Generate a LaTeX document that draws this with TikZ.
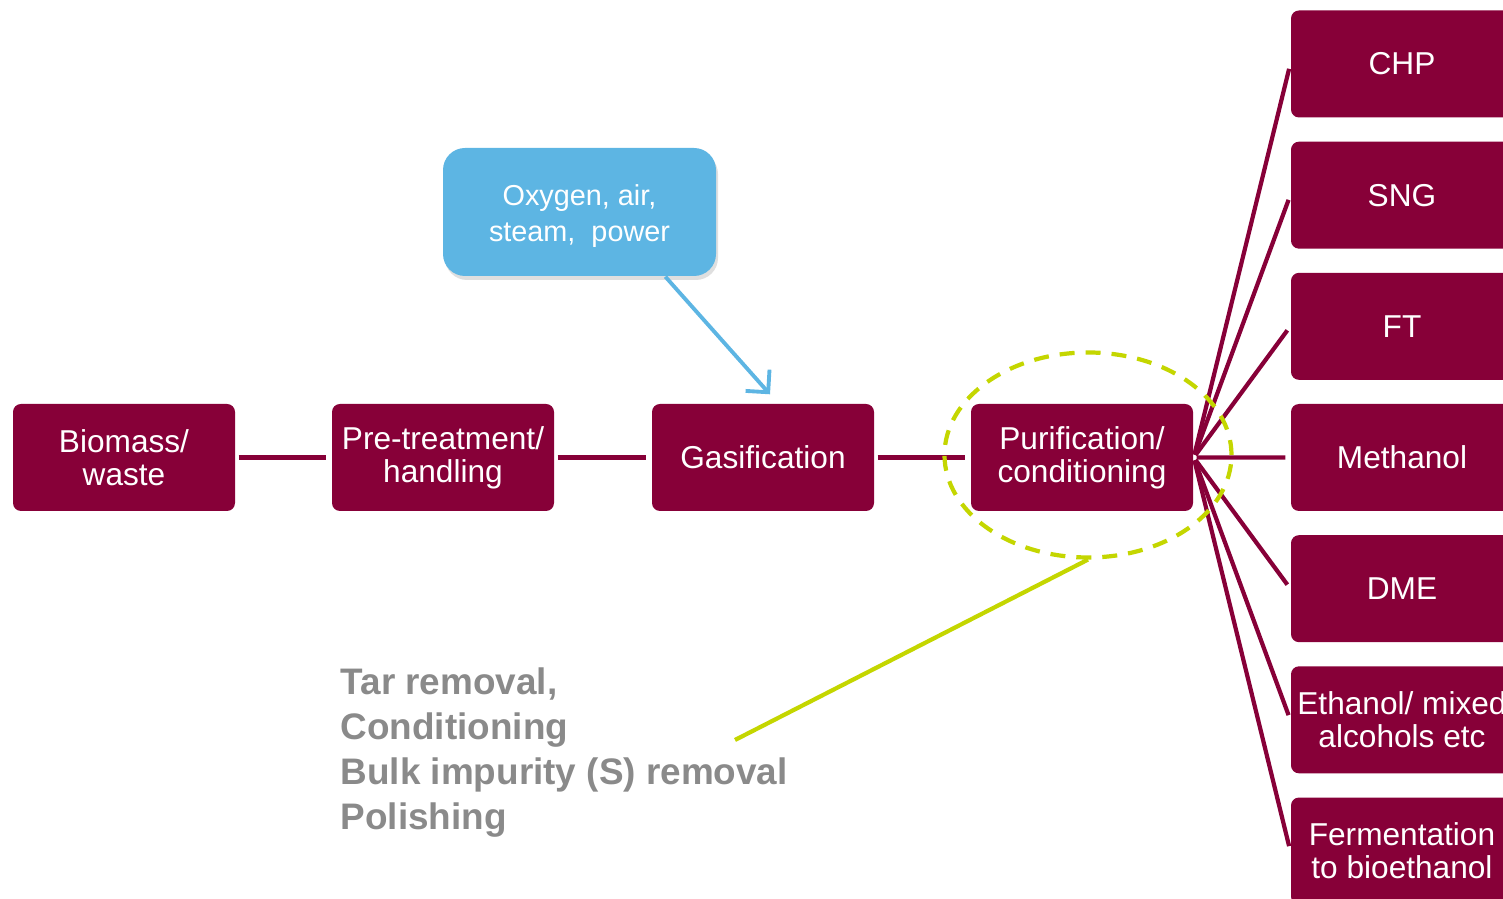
\documentclass[tikz,border=0pt]{standalone}
\usepackage{fontspec}
\setmainfont{Liberation Sans}
\usetikzlibrary{arrows.meta,shapes.geometric,shadows}
\definecolor{wine}{HTML}{870038}
\definecolor{sky}{HTML}{5DB5E3}
\definecolor{syngreen}{HTML}{C4D600}
\definecolor{slate}{HTML}{8A8A8A}
\begin{document}
\begin{tikzpicture}[
    box/.style={fill=wine,text=white,rounded corners=0.08cm,minimum width=2.22cm,minimum height=1.07cm,inner sep=0pt,align=center,font=\fontsize{9}{9.4}\selectfont},
    oxybox/.style={fill=sky,text=white,rounded corners=0.22cm,minimum width=2.73cm,minimum height=1.28cm,inner sep=0pt,align=center,font=\fontsize{8.2}{10.2}\selectfont,drop shadow={opacity=0.25,shadow xshift=0.02cm,shadow yshift=-0.04cm}},
    link/.style={draw=wine,line width=1.2pt,shorten <=0.03cm,shorten >=0.05cm},
    feed/.style={draw=sky,line width=1.1pt,-{Straight Barb[length=1.6mm,width=3.2mm]}},
    callout/.style={draw=syngreen,line width=1.2pt}
]
\useasboundingbox (0,0) rectangle (15.03,-8.99);
% main chain
\node[box] at (1.24,-4.575)(biomass){Biomass/\\waste};
\node[box] at (4.43,-4.575)(pretreat){Pre-treatment/\\handling};
\node[box] at (7.63,-4.575)(gasif){Gasification};
\node[box] at (10.82,-4.575)(purif){Purification/\\conditioning};
\node[oxybox] at (5.795,-2.12)(oxygen){\rule{0pt}{0.29cm}Oxygen, air,\\steam,~ power};
% products
\foreach \name/\txt [count=\i from 0] in {chp/CHP,sng/SNG,ft/FT,meoh/Methanol,dme/DME,etoh/{Ethanol/ mixed\\alcohols etc},ferm/{Fermentation\\to bioethanol}}{
    \node[box] at (14.02,{-0.64-1.3117*\i})(\name){\txt};
}
\path[link] (biomass) -- (pretreat);
\path[link] (pretreat) -- (gasif);
\path[link] (gasif) -- (purif);
\foreach \name in {chp,sng,ft,meoh,dme,etoh,ferm}{
    \path[link] (purif.east) -- (\name.west);
}
\path[feed] (oxygen.-37.5) -- ([xshift=0.07cm,yshift=0.09cm]gasif.north);
% cleanup steps
\node[ellipse,draw=syngreen,line width=1.2pt,dash pattern=on 0.15cm off 0.11cm,minimum width=2.87cm,minimum height=2.05cm,inner sep=0pt] at (10.88,-4.55)(focus){};
\coordinate (tail) at (7.35,-7.40);
\path[callout] (focus.south) -- (tail);
\node[anchor=north west,inner sep=0pt,align=left,text=slate,font=\fontsize{10.5}{12.8}\selectfont\bfseries] at (3.40,-6.67)(steps){Tar removal,\\Conditioning\\Bulk impurity (S) removal\\Polishing};
\end{tikzpicture}
\end{document}
